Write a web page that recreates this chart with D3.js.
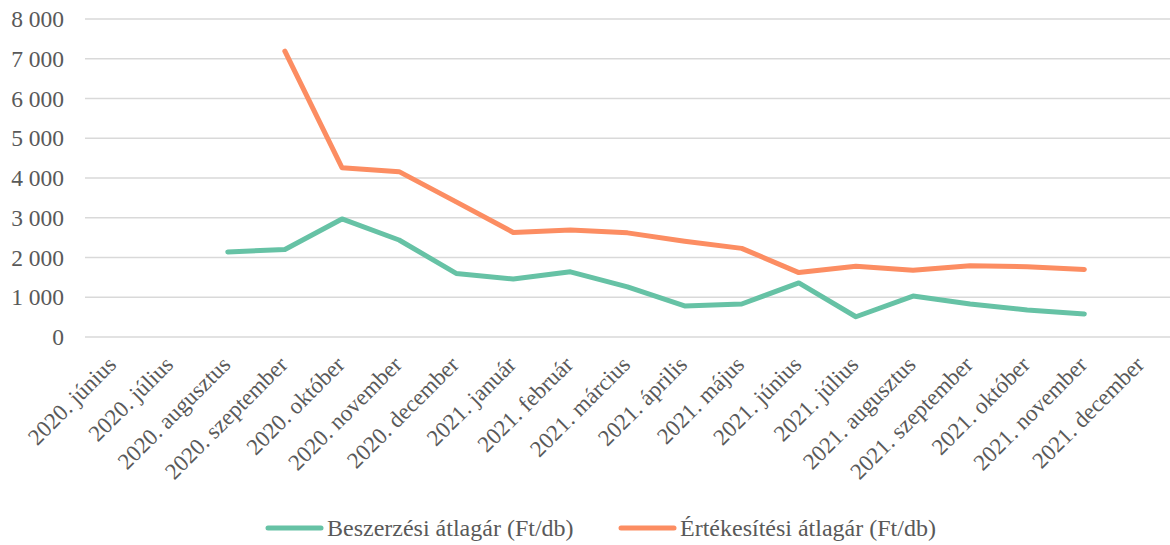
<!DOCTYPE html>
<html>
<head>
<meta charset="utf-8">
<script src="https://cdn.jsdelivr.net/npm/d3@7"></script>
<style>
  body { margin: 0; background: #fff; }
</style>
</head>
<body>
<svg id="canvas" width="1170" height="545"></svg>
<script>
let months = ['2020. június', '2020. július', '2020. augusztus', '2020. szeptember', '2020. október',
  '2020. november', '2020. december', '2021. január', '2021. február', '2021. március',
  '2021. április', '2021. május', '2021. június', '2021. július', '2021. augusztus',
  '2021. szeptember', '2021. október', '2021. november', '2021. december']

// null = no data for that month
let beszerzesi = [null, null, 2140, 2200, 2970, 2440, 1600, 1460, 1640, 1260,
  780, 830, 1360, 510, 1030, 830, 680, 580, null]
let ertekesitesi = [null, null, null, 7190, 4260, 4160, 3400, 2630, 2690, 2620,
  2410, 2230, 1620, 1780, 1680, 1790, 1770, 1700, null]

let yTicks = [0, 1000, 2000, 3000, 4000, 5000, 6000, 7000, 8000]

let seriesNames = ['Beszerzési átlagár (Ft/db)', 'Értékesítési átlagár (Ft/db)']
let seriesColors = ['#66c2a5', '#fc8d62']

let serif = "'Liberation Serif'"

let canvas = d3.select('#canvas')

let x = d3.scaleBand()
  .domain(months)
  .range([85, 1170])

let y = d3.scaleLinear()
  .domain([0, 8000])
  .range([337, 19])

let fmt = (v) => d3.format(',')(v).replace(/,/g, ' ')

// grid lines
canvas.append('g')
  .selectAll('line')
  .data(yTicks)
  .enter()
  .append('line')
  .attr('x1', 85)
  .attr('x2', 1170)
  .attr('y1', (d) => y(d))
  .attr('y2', (d) => y(d))
  .attr('stroke', '#d9d9d9')
  .attr('stroke-width', 1.3)

// y labels
canvas.append('g')
  .selectAll('text')
  .data(yTicks)
  .enter()
  .append('text')
  .attr('x', 64)
  .attr('y', (d) => y(d) + 8)
  .attr('text-anchor', 'end')
  .attr('fill', '#595959')
  .style('font-family', serif)
  .style('font-size', '23.5px')
  .text((d) => fmt(d))

// x labels
canvas.append('g')
  .selectAll('text')
  .data(months)
  .enter()
  .append('text')
  .attr('transform', (d) => {
    let cx = x(d) + x.bandwidth() / 2
    return 'translate(' + (cx + 4) + ', 366) rotate(-45)'
  })
  .attr('text-anchor', 'end')
  .attr('fill', '#595959')
  .style('font-family', serif)
  .style('font-size', '23px')
  .text((d) => d)

// lines
let line = d3.line()
  .defined((d) => d !== null)
  .x((d, i) => x(months[i]) + x.bandwidth() / 2)
  .y((d) => y(d))

let allSeries = [beszerzesi, ertekesitesi]

canvas.append('g')
  .selectAll('path')
  .data(allSeries)
  .enter()
  .append('path')
  .attr('d', (d) => line(d))
  .attr('fill', 'none')
  .attr('stroke', (d, i) => seriesColors[i])
  .attr('stroke-width', 5)
  .attr('stroke-linecap', 'round')
  .attr('stroke-linejoin', 'round')

// legend
let legendX = [268, 621]
let legend = canvas.append('g')
  .selectAll('g')
  .data(seriesNames)
  .enter()
  .append('g')
  .attr('transform', (d, i) => 'translate(' + legendX[i] + ', 528)')

legend.append('line')
  .attr('x1', 0)
  .attr('x2', 53)
  .attr('y1', 0)
  .attr('y2', 0)
  .attr('stroke', (d, i) => seriesColors[i])
  .attr('stroke-width', 5)
  .attr('stroke-linecap', 'round')

legend.append('text')
  .attr('x', 59)
  .attr('y', 8)
  .attr('fill', '#595959')
  .style('font-family', serif)
  .style('font-size', '24px')
  .text((d) => d)
</script>
</body>
</html>
